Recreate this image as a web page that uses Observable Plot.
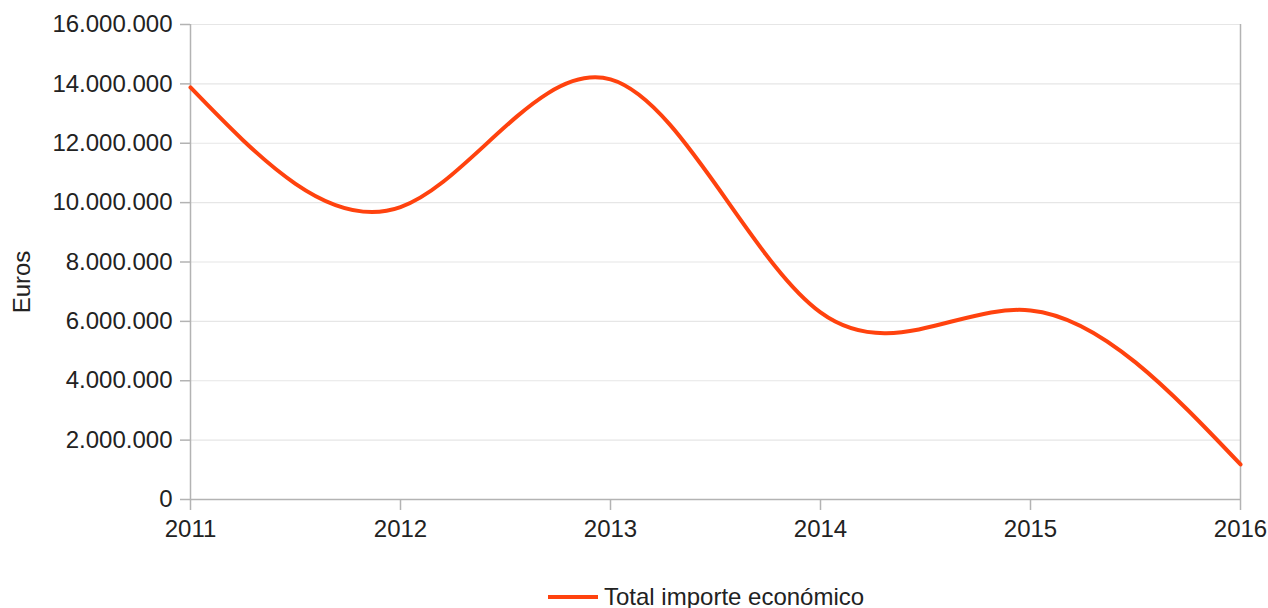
<!DOCTYPE html>
<html>
<head>
<meta charset="utf-8">
<script src="https://cdn.jsdelivr.net/npm/d3@7"></script>
<script src="https://cdn.jsdelivr.net/npm/@observablehq/plot@0.6"></script>
<style>
  body { margin: 0; background: #fff; font-family: "Liberation Sans", Arial, sans-serif; }
  #wrap { position: relative; width: 1268px; height: 608px; }
  #legend { position: absolute; left: 548px; top: 583px; display: flex; align-items: center; font-size: 24px; color: #222; }
  #legend .sw { width: 50px; height: 4px; background: #ff420e; margin-right: 6px; }
</style>
</head>
<body>
<div id="wrap">
  <div id="chart"></div>
  <div id="legend"><div class="sw"></div><span>Total importe económico</span></div>
</div>
<script>
const years = [2011, 2012, 2013, 2014, 2015, 2016];
const importe = [13880000, 9850000, 14150000, 6300000, 6370000, 1180000];
const yTicks = [0, 2e6, 4e6, 6e6, 8e6, 10e6, 12e6, 14e6, 16e6];
const seriesName = "Total importe económico";
const yLabel = "Euros";

const data = years.map((y, i) => ({year: y, value: importe[i]}));
const fmt = d => d3.format(",")(d).replace(/,/g, ".");

const chart = Plot.plot({
  width: 1268,
  height: 560,
  marginLeft: 190,
  marginRight: 28,
  marginTop: 24,
  marginBottom: 61,
  style: { fontFamily: "Liberation Sans, Arial, sans-serif", fontSize: "24px", color: "#222", background: "#fff" },
  x: { domain: [2011, 2016], ticks: years, tickFormat: d => String(d) },
  y: { domain: [0, 16e6], ticks: yTicks, tickFormat: fmt },
  marks: [
    Plot.gridY(yTicks, { stroke: "#e6e6e6", strokeOpacity: 1, strokeWidth: 1.2 }),
    Plot.ruleX([2016], { stroke: "#b3b3b3", strokeWidth: 1.5 }),
    Plot.ruleY([0], { stroke: "#b3b3b3", strokeWidth: 1.5 }),
    Plot.ruleX([2011], { stroke: "#b3b3b3", strokeWidth: 1.5 }),
    Plot.axisY(yTicks, { tickFormat: fmt, tickSize: 10, tickPadding: 8, stroke: "#b3b3b3", strokeWidth: 1.5, label: null, fontSize: 24 }),
    Plot.text([yLabel], { text: d => d, frameAnchor: "left", textAnchor: "middle", dx: -168, dy: 20, rotate: -90, fontSize: 24, fill: "#222" }),
    Plot.axisX(years, { tickFormat: d => String(d), tickSize: 11, tickPadding: 9, stroke: "#b3b3b3", strokeWidth: 1.5, label: null, fontSize: 24 }),
    Plot.line(data, { x: "year", y: "value", curve: "natural", stroke: "#ff420e", strokeWidth: 4 })
  ]
});
document.getElementById("chart").appendChild(chart);
</script>
</body>
</html>
